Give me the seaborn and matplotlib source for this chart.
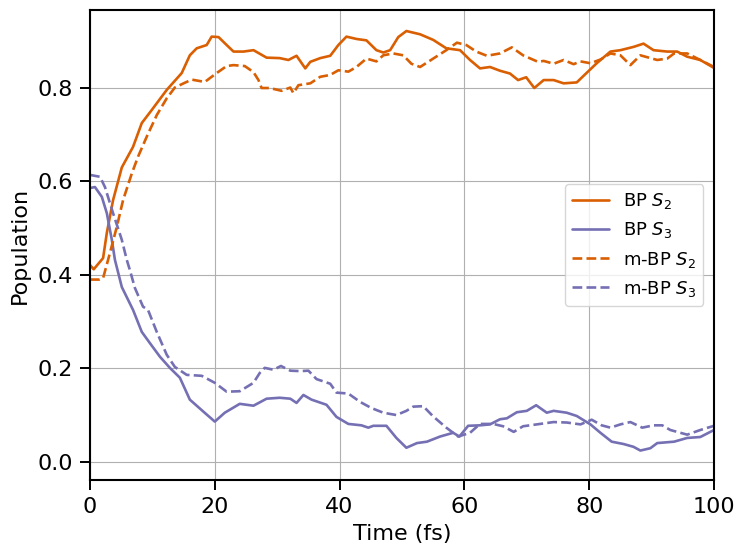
import matplotlib
matplotlib.use("Agg")
import matplotlib.pyplot as plt
import seaborn as sns
import pandas as pd

# ---- data ----
bp_s2_t = [0, 0.6, 2.1, 2.7, 3.7, 5.1, 6.9, 8.3, 9.9, 12.3, 14.7, 16.0, 17.1, 18.7, 19.5, 20.6,
           21.9, 23.0, 24.6, 26.2, 28.3, 30.4, 31.8, 33.1, 34.5, 35.3, 36.9, 38.5, 39.8, 41.1,
           42.7, 44.3, 45.9, 47.0, 48.1, 49.4, 50.7, 52.9, 55.0, 57.1, 59.3, 60.9, 62.5, 64.1,
           65.7, 67.3, 68.6, 69.9, 71.2, 72.7, 74.3, 75.9, 78.0, 79.4, 81.2, 83.4, 85.0, 87.1,
           88.7, 90.3, 92.5, 94.1, 95.7, 97.8, 100]
bp_s2_v = [0.421, 0.412, 0.436, 0.49, 0.56, 0.63, 0.674, 0.725, 0.753, 0.796, 0.832, 0.87, 0.885,
           0.892, 0.91, 0.909, 0.892, 0.878, 0.878, 0.881, 0.865, 0.864, 0.86, 0.869, 0.842, 0.856,
           0.864, 0.869, 0.892, 0.91, 0.905, 0.902, 0.881, 0.876, 0.881, 0.909, 0.922, 0.915,
           0.903, 0.885, 0.881, 0.86, 0.842, 0.845, 0.837, 0.831, 0.817, 0.823, 0.8, 0.817, 0.817,
           0.81, 0.812, 0.83, 0.853, 0.878, 0.881, 0.888, 0.895, 0.881, 0.878, 0.878, 0.867,
           0.86, 0.843]

bp_s3_t = [0, 0.8, 1.9, 2.7, 3.5, 4.0, 5.1, 6.9, 8.3, 9.6, 11.2, 12.8, 14.4, 16.0, 18.2, 20.0,
           21.6, 24.0, 26.2, 28.3, 30.4, 32.1, 33.1, 34.2, 35.5, 37.9, 39.5, 41.4, 43.5, 44.6,
           45.4, 47.5, 49.1, 50.7, 52.4, 54.0, 56.1, 58.2, 59.2, 60.6, 62.5, 64.1, 65.7, 66.8,
           68.4, 70.0, 71.5, 73.2, 74.3, 76.4, 78.0, 80.2, 81.8, 83.6, 85.5, 87.1, 88.2, 89.8,
           90.9, 93.6, 95.7, 97.8, 100]
bp_s3_v = [0.586, 0.588, 0.567, 0.532, 0.475, 0.432, 0.374, 0.325, 0.278, 0.254, 0.225, 0.201,
           0.18, 0.133, 0.107, 0.086, 0.105, 0.124, 0.12, 0.135, 0.137, 0.135, 0.126, 0.143,
           0.133, 0.122, 0.096, 0.081, 0.078, 0.073, 0.077, 0.077, 0.051, 0.03, 0.04, 0.043,
           0.054, 0.062, 0.054, 0.077, 0.078, 0.08, 0.091, 0.093, 0.106, 0.109, 0.121, 0.105,
           0.109, 0.105, 0.098, 0.08, 0.062, 0.043, 0.038, 0.032, 0.024, 0.029, 0.04, 0.043,
           0.051, 0.053, 0.068]

mbp_s2_t = [0, 1.5, 2.1, 3.2, 4.3, 5.3, 6.7, 7.7, 9.1, 10.7, 12.3, 13.6, 15.0, 16.3, 18.4, 20.3,
            21.9, 23.0, 24.8, 26.2, 27.0, 27.5, 28.8, 30.7, 32.1, 32.6, 33.4, 35.3, 36.9, 38.5,
            39.8, 41.4, 42.7, 44.3, 45.9, 47.0, 48.6, 50.2, 51.5, 52.9, 55.0, 57.1, 58.8, 60.3,
            61.9, 63.6, 65.7, 67.6, 69.4, 71.8, 72.7, 74.3, 75.9, 77.5, 78.6, 80.2, 81.8, 83.4,
            85.0, 86.6, 88.2, 90.9, 92.5, 93.6, 95.7, 97.8, 100]
mbp_s2_v = [0.39, 0.39, 0.393, 0.447, 0.503, 0.56, 0.617, 0.653, 0.696, 0.742, 0.778, 0.801,
            0.81, 0.818, 0.813, 0.832, 0.847, 0.849, 0.847, 0.834, 0.817, 0.8, 0.8, 0.794, 0.801,
            0.789, 0.806, 0.81, 0.824, 0.828, 0.838, 0.835, 0.845, 0.863, 0.857, 0.87, 0.874,
            0.87, 0.852, 0.845, 0.863, 0.881, 0.897, 0.892, 0.878, 0.869, 0.874, 0.887, 0.87,
            0.856, 0.858, 0.852, 0.86, 0.851, 0.857, 0.853, 0.861, 0.874, 0.87, 0.849, 0.87,
            0.86, 0.863, 0.874, 0.874, 0.86, 0.845]

mbp_s3_t = [0, 1.6, 2.4, 3.7, 5.1, 5.9, 6.4, 7.2, 8.5, 9.3, 10.7, 12.3, 13.6, 15.5, 17.9, 20.0,
            21.9, 24.0, 26.2, 27.2, 28.0, 29.4, 30.6, 32.1, 33.7, 35.0, 36.3, 38.5, 39.5, 41.4,
            43.3, 45.1, 47.0, 49.1, 50.7, 51.8, 53.4, 55.0, 57.1, 59.0, 60.9, 62.5, 64.6, 66.2,
            67.9, 69.4, 71.6, 74.3, 76.4, 78.6, 80.4, 82.0, 83.4, 85.0, 86.6, 88.5, 90.3, 91.7,
            93.0, 95.7, 97.8, 100]
mbp_s3_v = [0.614, 0.61, 0.588, 0.532, 0.475, 0.432, 0.41, 0.372, 0.332, 0.325, 0.278, 0.229,
            0.203, 0.186, 0.184, 0.169, 0.15, 0.151, 0.169, 0.19, 0.201, 0.197, 0.205, 0.195,
            0.194, 0.195, 0.177, 0.167, 0.148, 0.146, 0.128, 0.115, 0.105, 0.1, 0.109, 0.118,
            0.119, 0.097, 0.073, 0.054, 0.062, 0.081, 0.081, 0.076, 0.064, 0.076, 0.08, 0.085,
            0.084, 0.08, 0.09, 0.078, 0.073, 0.08, 0.085, 0.073, 0.078, 0.078, 0.068, 0.058,
            0.068, 0.077]

series_labels = ["BP $S_2$", "BP $S_3$", "m-BP $S_2$", "m-BP $S_3$"]
x_ticks = [0, 20, 40, 60, 80, 100]
y_ticks = [0.0, 0.2, 0.4, 0.6, 0.8]

# ---- style ----
sns.set_theme(style="ticks")
plt.rcParams["font.family"] = ["DejaVu Sans"]
plt.rcParams["mathtext.fontset"] = "dejavusans"
plt.rcParams["text.color"] = "black"
plt.rcParams["axes.labelcolor"] = "black"
plt.rcParams["xtick.color"] = "black"
plt.rcParams["ytick.color"] = "black"

orange = "#d95f02"
purple = "#7570b3"

frames = []
for t, v, lab in [(bp_s2_t, bp_s2_v, series_labels[0]),
                  (bp_s3_t, bp_s3_v, series_labels[1]),
                  (mbp_s2_t, mbp_s2_v, series_labels[2]),
                  (mbp_s3_t, mbp_s3_v, series_labels[3])]:
    frames.append(pd.DataFrame({"Time": t, "Population": v, "Series": lab}))
df = pd.concat(frames, ignore_index=True)

fig = plt.figure(figsize=(7.4, 5.46), dpi=100)
ax = fig.add_axes([0.1216, 0.1209, 0.8433, 0.8608])

palette = {series_labels[0]: orange, series_labels[1]: purple,
           series_labels[2]: orange, series_labels[3]: purple}
dashes = {series_labels[0]: "", series_labels[1]: "",
          series_labels[2]: (3.7, 1.6), series_labels[3]: (3.7, 1.6)}

sns.lineplot(data=df, x="Time", y="Population", hue="Series", style="Series",
             palette=palette, dashes=dashes, hue_order=series_labels,
             style_order=series_labels, estimator=None, sort=True,
             linewidth=1.9, ax=ax)

ax.set_xlim(0, 100)
ax.set_ylim(-0.039, 0.967)
ax.set_xticks(x_ticks)
ax.set_yticks(y_ticks)
ax.grid(True, color="#b0b0b0", linewidth=0.8)
ax.set_axisbelow(True)
for s in ax.spines.values():
    s.set_visible(True)
    s.set_linewidth(1.5)
    s.set_color("black")
ax.tick_params(axis="both", which="major", labelsize=16, length=7, width=1.4,
               direction="out", color="black", labelcolor="black", pad=5)
ax.set_xlabel("Time (fs)", fontsize=16, labelpad=5, color="black")
ax.set_ylabel("Population", fontsize=16, labelpad=6, color="black")

leg = ax.legend(loc="center right", fontsize=13, frameon=True, handlelength=2.0,
                borderaxespad=0.6)
leg.get_frame().set_edgecolor("#cccccc")
leg.get_frame().set_alpha(0.8)
for txt in leg.get_texts():
    txt.set_color("black")

fig.savefig("out.png", dpi=100)
